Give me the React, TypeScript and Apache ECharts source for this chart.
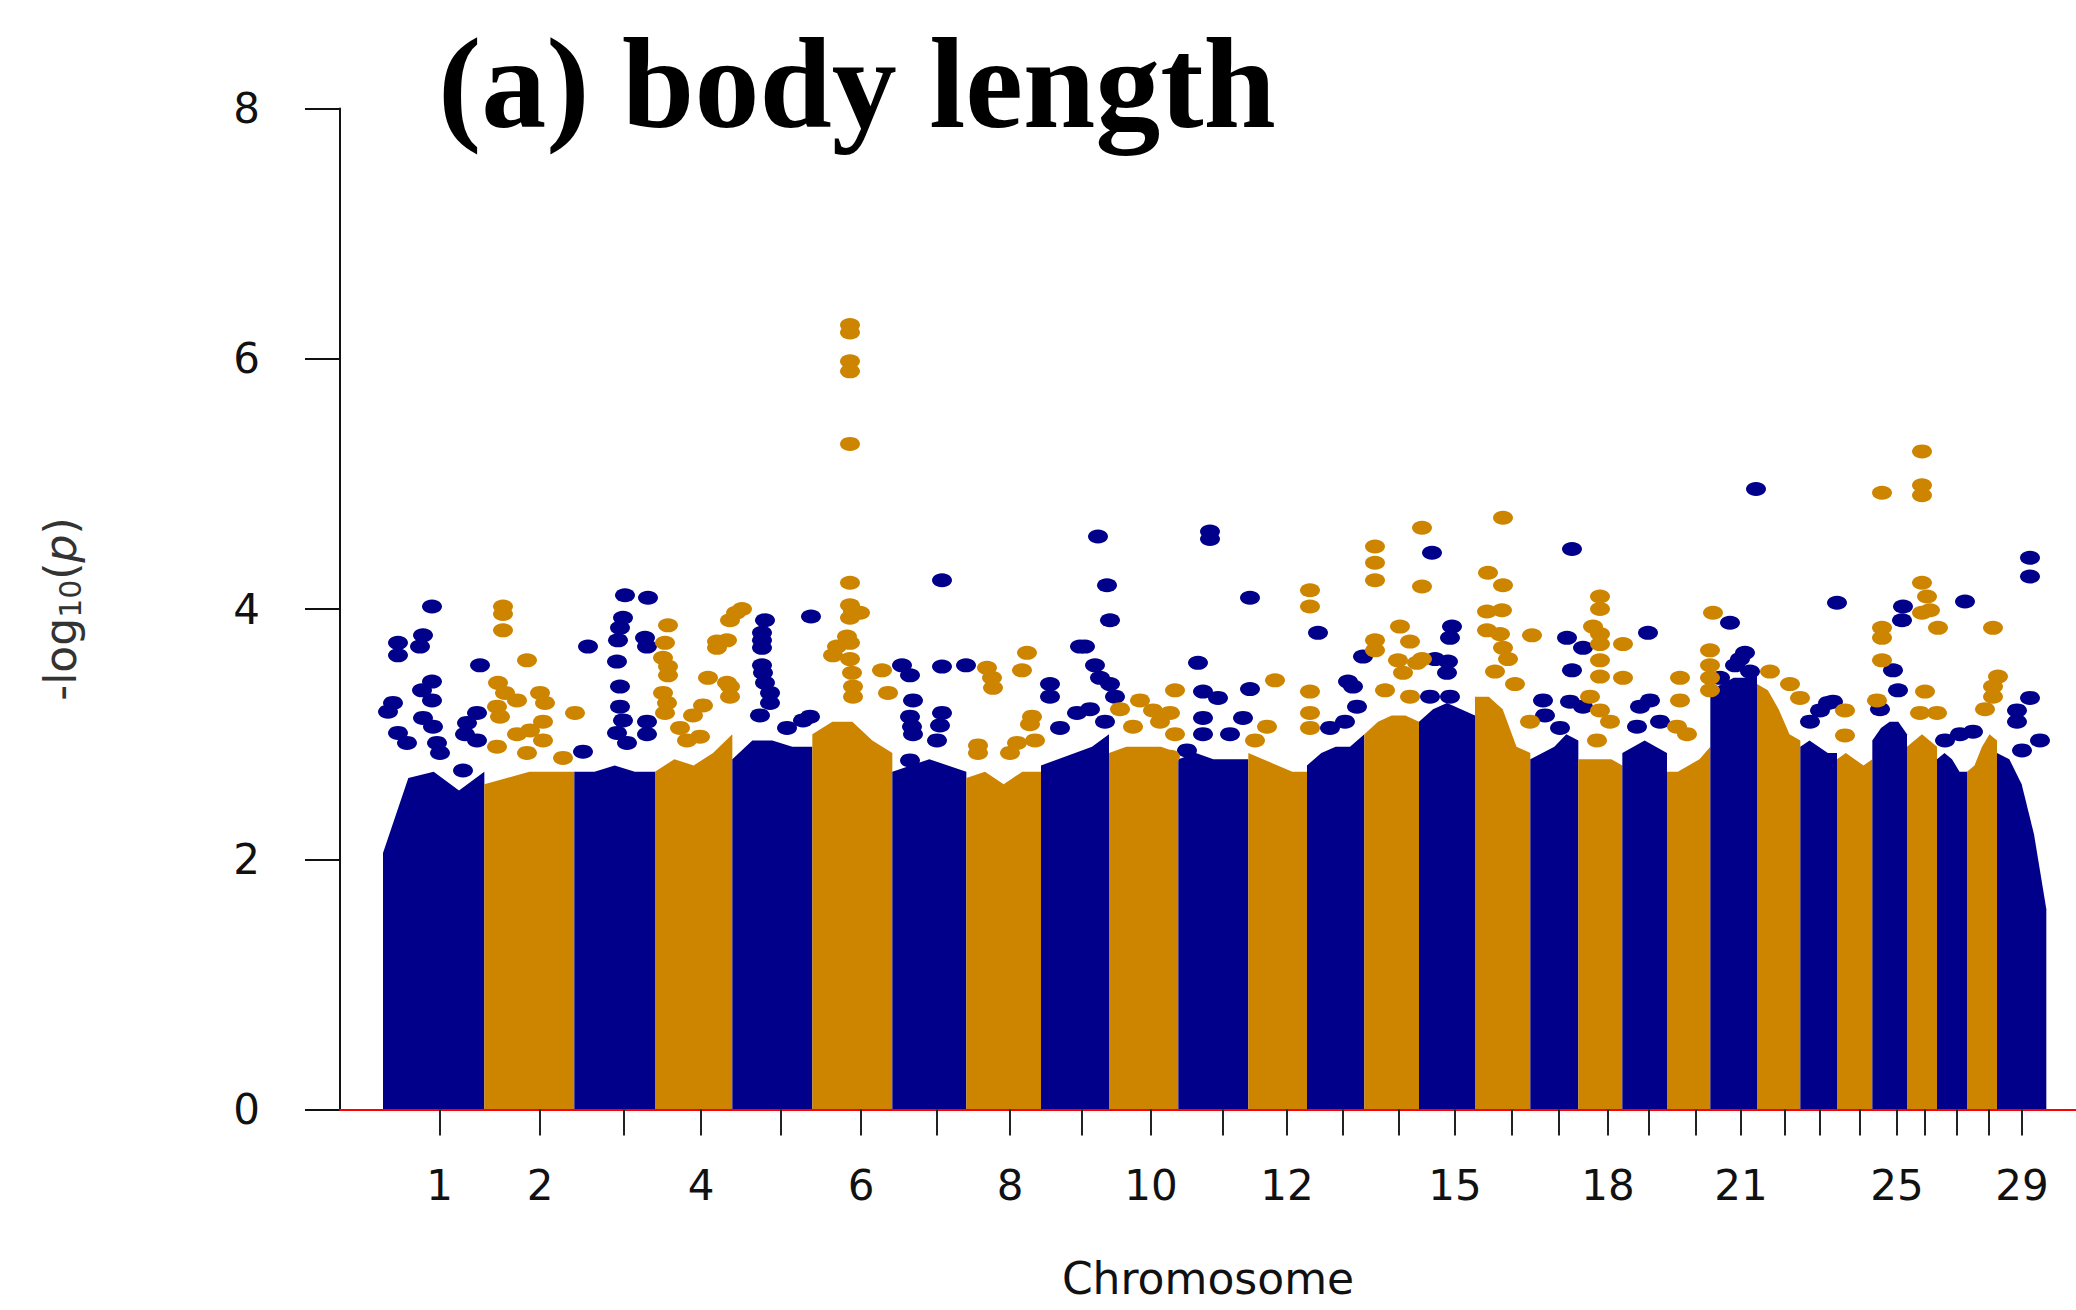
import React, { useEffect, useRef } from "react";
import * as echarts from "echarts";

// Chromosome layout (cumulative genome position, Mb)
const chrNames = ["1","2","3","4","5","6","7","8","9","10","11","12","13","14","15","16","17","18","19","20","21","22","23","24","25","26","27","28","29"];
const chrStart = [0,152,287,408,524,644,764,875,987,1089,1193,1298,1386,1472,1554,1638,1721,1793,1859,1926,1991,2061,2126,2181,2234,2286,2331,2376,2421];
const chrEnd = [152,287,408,524,644,764,875,987,1089,1193,1298,1386,1472,1554,1638,1721,1793,1859,1926,1991,2061,2126,2181,2234,2286,2331,2376,2421,2495];
const tickPos = [85,235.5,361.5,477,597,717,831,940.5,1048.5,1152,1260,1356,1440,1524,1608,1693.5,1764,1837.5,1899,1969.5,2037,2103,2155.5,2215.5,2271,2313,2361,2409,2458.5];
const labeledChr = ["1","2","4","6","8","10","12","15","18","21","25","29"];
const yTicks = [0, 2, 4, 6, 8];

// Upper edge of the dense SNP mass of each chromosome (-log10 p at 5 points across it)
const envTop = [
  [2.05,2.65,2.7,2.55,2.7],
  [2.6,2.65,2.7,2.7,2.7],
  [2.7,2.7,2.75,2.7,2.7],
  [2.7,2.8,2.75,2.85,3.0],
  [2.8,2.95,2.95,2.9,2.9],
  [3.0,3.1,3.1,2.95,2.85],
  [2.7,2.75,2.8,2.75,2.7],
  [2.65,2.7,2.6,2.7,2.7],
  [2.75,2.8,2.85,2.9,3.0],
  [2.85,2.9,2.9,2.9,2.85],
  [2.8,2.85,2.8,2.8,2.8],
  [2.85,2.8,2.75,2.7,2.7],
  [2.75,2.85,2.9,2.9,3.0],
  [3.0,3.1,3.15,3.15,3.1],
  [3.1,3.2,3.25,3.2,3.15],
  [3.3,3.3,3.2,2.9,2.85],
  [2.8,2.85,2.9,3.0,2.95],
  [2.8,2.8,2.8,2.8,2.75],
  [2.85,2.9,2.95,2.9,2.85],
  [2.7,2.7,2.75,2.8,2.9],
  [3.35,3.4,3.45,3.45,3.5],
  [3.4,3.35,3.2,3.0,2.95],
  [2.9,2.95,2.9,2.85,2.85],
  [2.8,2.85,2.8,2.75,2.8],
  [2.95,3.05,3.1,3.1,3.0],
  [2.9,2.95,3.0,2.95,2.9],
  [2.8,2.85,2.8,2.7,2.7],
  [2.7,2.75,2.9,3.0,2.95],
  [2.85,2.8,2.6,2.2,1.6]
];

// Individual SNPs standing above the dense mass: [position Mb, -log10 p]
const blueDots = [
  [73.5,4.02],[22.5,3.73],[22.5,3.63],[60,3.79],[55.5,3.70],[145.5,3.55],[73.5,3.42],[58.5,3.35],[73.5,3.27],[15,3.25],[7.5,3.18],[60,3.13],[75,3.06],[22.5,3.01],[36,2.93],[141,3.17],[126,3.09],[123,3.0],[141,2.95],[81,2.93],[85.5,2.85],[120,2.71],
  [363,4.11],[397.5,4.09],[360,3.93],[355.5,3.85],[307.5,3.70],[352.5,3.75],[393,3.77],[396,3.70],[351,3.58],[355.5,3.38],[355.5,3.22],[360,3.11],[396,3.10],[396,3.0],[300,2.86],[351,3.01],[366,2.93],
  [573,3.91],[568.5,3.81],[568.5,3.75],[568.5,3.69],[642,3.94],[568.5,3.55],[570,3.49],[573,3.41],[580.5,3.33],[580.5,3.25],[565.5,3.15],[606,3.05],[630,3.11],[640.5,3.14],
  [838.5,4.23],[778.5,3.55],[790.5,3.47],[838.5,3.54],[874.5,3.55],[795,3.27],[838.5,3.17],[835.5,3.07],[790.5,3.14],[793.5,3.06],[795,3.0],[831,2.95],[790.5,2.79],
  [1000.5,3.40],[1000.5,3.30],[1045.5,3.70],[1041,3.17],[1072.5,4.58],[1086,4.19],[1090.5,3.91],[1053,3.70],[1068,3.55],[1075.5,3.45],[1090.5,3.40],[1098,3.30],[1060.5,3.20],[1083,3.10],[1015.5,3.05],
  [1240.5,4.62],[1240.5,4.56],[1300.5,4.09],[1222.5,3.57],[1300.5,3.36],[1230,3.34],[1252.5,3.29],[1230,3.13],[1290,3.13],[1206,2.87],[1230,3.0],[1270.5,3.0],
  [1402.5,3.81],[1455,3.38],[1447.5,3.42],[1461,3.22],[1470,3.62],[1420.5,3.05],[1443,3.1],
  [1573.5,4.45],[1603.5,3.86],[1600.5,3.77],[1578,3.60],[1597.5,3.58],[1596,3.49],[1570.5,3.30],[1600.5,3.30],
  [1783.5,4.48],[1776,3.77],[1800,3.69],[1783.5,3.51],[1740,3.27],[1743,3.15],[1780.5,3.26],[1800,3.22],[1765.5,3.05],
  [1897.5,3.81],[1900.5,3.27],[1885.5,3.22],[1881,3.06],[1915.5,3.1],
  [2020.5,3.89],[2059.5,4.96],[2043,3.65],[2028,3.55],[2050.5,3.5],[2005.5,3.45],[2035.5,3.6],
  [2181,4.05],[2155.5,3.19],[2175,3.26],[2140.5,3.1],[2167.5,3.25],
  [2280,4.02],[2278.5,3.91],[2265,3.51],[2272.5,3.35],[2245.5,3.2],
  [2373,4.06],[2343,2.95],[2385,3.02],[2365.5,3.0],
  [2470.5,4.41],[2470.5,4.26],[2470.5,3.29],[2451,3.19],[2451,3.10],[2458.5,2.87],[2485.5,2.95]
];
const goldDots = [
  [180,4.02],[180,3.96],[180,3.83],[216,3.59],[172.5,3.41],[183,3.33],[201,3.27],[235.5,3.33],[243,3.25],[288,3.17],[171,3.22],[175.5,3.14],[240,3.10],[201,3.0],[220.5,3.03],[240,2.95],[171,2.9],[216,2.85],[270,2.81],
  [427.5,3.87],[423,3.73],[420,3.61],[427.5,3.54],[427.5,3.47],[501,3.74],[501,3.69],[520.5,3.91],[529.5,3.97],[538.5,4.0],[487.5,3.45],[420,3.33],[426,3.25],[423,3.17],[480,3.23],[465,3.15],[516,3.41],[516,3.75],[520.5,3.38],[520.5,3.30],[475.5,2.98],[445.5,3.05],[456,2.95],
  [700.5,6.27],[700.5,6.21],[700.5,5.98],[700.5,5.90],[700.5,5.32],[700.5,4.21],[700.5,4.03],[705,3.98],[700.5,3.93],[715.5,3.97],[696,3.78],[700.5,3.73],[681,3.70],[675,3.63],[700.5,3.60],[703.5,3.49],[705,3.38],[705,3.30],[748.5,3.51],[757.5,3.33],
  [966,3.65],[958.5,3.51],[906,3.53],[913.5,3.45],[915,3.37],[973.5,3.14],[970.5,3.08],[892.5,2.91],[892.5,2.85],[951,2.93],[940.5,2.85],[978,2.95],
  [1188,3.35],[1135.5,3.27],[1155,3.19],[1180.5,3.17],[1188,3.0],[1125,3.06],[1180.5,2.82],[1105.5,3.2],[1165.5,3.1],
  [1338,3.43],[1326,3.06],[1390.5,4.15],[1390.5,4.02],[1390.5,3.34],[1390.5,3.17],[1390.5,3.05],[1308,2.95],
  [1488,4.50],[1488,4.37],[1488,4.23],[1558.5,4.65],[1558.5,4.18],[1525.5,3.86],[1540.5,3.74],[1488,3.75],[1488,3.67],[1522.5,3.59],[1551,3.57],[1530,3.49],[1558.5,3.60],[1503,3.35],[1540.5,3.3],
  [1680,4.73],[1657.5,4.29],[1680,4.19],[1656,3.98],[1678.5,3.99],[1656,3.83],[1675.5,3.8],[1680,3.69],[1687.5,3.60],[1723.5,3.79],[1668,3.5],[1698,3.4],[1720.5,3.1],
  [1825.5,4.10],[1825.5,4.00],[1815,3.86],[1825.5,3.80],[1825.5,3.72],[1825.5,3.59],[1825.5,3.46],[1860,3.72],[1860,3.45],[1825.5,3.19],[1821,2.95],[1810.5,3.3],[1840.5,3.1],
  [1945.5,3.45],[1945.5,3.27],[1995,3.97],[1990.5,3.67],[1990.5,3.55],[1990.5,3.45],[1990.5,3.35],[1941,3.06],[1956,3.0],
  [2125.5,3.29],[2080.5,3.5],[2110.5,3.4],
  [2248.5,4.93],[2248.5,3.85],[2248.5,3.77],[2248.5,3.59],[2193,3.19],[2193,2.99],[2241,3.27],
  [2308.5,5.26],[2308.5,4.99],[2308.5,4.91],[2308.5,4.21],[2316,4.10],[2320.5,3.99],[2308.5,3.97],[2332.5,3.85],[2313,3.34],[2331,3.17],[2305.5,3.17],
  [2415,3.85],[2422.5,3.46],[2415,3.38],[2415,3.30],[2403,3.2]
];

const BLUE = "#00008B";
const GOLD = "#CD8500";
const AXIS_FONT = "DejaVu Sans, Liberation Sans, sans-serif";

export default function App() {
  const ref = useRef<HTMLDivElement>(null);
  useEffect(() => {
    if (!ref.current) return;
    const chart = echarts.init(ref.current, undefined, { renderer: "svg" });
    const labelValues = labeledChr.map((c) => tickPos[chrNames.indexOf(c)]);
    const blockData = chrNames.map((_, i) => [chrStart[i], chrEnd[i], ...envTop[i]]);
    chart.setOption({
      animation: false,
      backgroundColor: "#ffffff",
      title: {
        text: "(a) body length",
        left: 438,
        top: 18,
        padding: 0,
        textStyle: {
          fontFamily: "Liberation Serif, Times New Roman, serif",
          fontWeight: "bold",
          fontSize: 130,
          lineHeight: 130,
          color: "#000000",
        },
      },
      grid: {
        left: 340,
        right: 0,
        top: 108.6,
        bottom: 200.5,
        containLabel: false,
        outerBoundsMode: "none",
      },
      xAxis: {
        type: "value",
        min: -64.5,
        max: 2539.5,
        z: 10,
        name: "Chromosome",
        nameLocation: "middle",
        nameGap: 150,
        nameTextStyle: { fontFamily: AXIS_FONT, fontSize: 44, lineHeight: 38, color: "#111111" },
        axisLine: { show: true, onZero: false, lineStyle: { color: "#ff0000", width: 2 } },
        axisTick: {
          show: true,
          customValues: tickPos,
          length: 26,
          lineStyle: { color: "#222222", width: 2 },
        },
        axisLabel: {
          show: true,
          customValues: labelValues,
          margin: 55,
          fontFamily: AXIS_FONT,
          fontSize: 42,
          lineHeight: 42,
          color: "#111111",
          formatter: (v: number) => {
            const idx = tickPos.findIndex((t) => Math.abs(t - v) < 0.01);
            return idx >= 0 ? chrNames[idx] : "";
          },
        },
        splitLine: { show: false },
      },
      yAxis: {
        type: "value",
        min: 0,
        max: 8,
        interval: 2,
        name: "{a|-log}{s|10}{a|(}{i|p}{a|)}",
        nameLocation: "middle",
        nameRotate: 90,
        nameGap: 255,
        nameTextStyle: {
          color: "#333333",
          rich: {
            a: { fontFamily: AXIS_FONT, fontSize: 44, lineHeight: 50, color: "#333333" },
            i: { fontFamily: AXIS_FONT, fontSize: 44, lineHeight: 50, fontStyle: "italic", color: "#333333" },
            s: { fontFamily: AXIS_FONT, fontSize: 30, lineHeight: 22, verticalAlign: "bottom", color: "#333333" },
          },
        },
        axisLine: { show: true, onZero: false, lineStyle: { color: "#111111", width: 2 } },
        axisTick: { show: true, length: 35, lineStyle: { color: "#111111", width: 2 } },
        axisLabel: {
          margin: 80,
          fontFamily: AXIS_FONT,
          fontSize: 42,
          color: "#111111",
          formatter: (v: number) => (yTicks.includes(v) ? String(v) : ""),
        },
        splitLine: { show: false },
      },
      series: [
        {
          type: "custom",
          silent: true,
          z: 2,
          data: blockData,
          encode: { x: [0, 1], y: [2, 3, 4, 5, 6] },
          renderItem: (params: any, api: any) => {
            const s = api.value(0);
            const e = api.value(1);
            const pts: number[][] = [api.coord([s, 0])];
            for (let k = 0; k < 5; k++) {
              pts.push(api.coord([s + ((e - s) * k) / 4, api.value(2 + k)]));
            }
            pts.push(api.coord([e, 0]));
            return {
              type: "polygon",
              shape: { points: pts },
              style: { fill: params.dataIndex % 2 === 0 ? BLUE : GOLD, stroke: "none" },
            };
          },
        },
        {
          type: "scatter",
          silent: true,
          z: 3,
          symbol: "circle",
          symbolSize: [20, 14],
          itemStyle: { color: BLUE, opacity: 1 },
          data: blueDots,
        },
        {
          type: "scatter",
          silent: true,
          z: 3,
          symbol: "circle",
          symbolSize: [20, 14],
          itemStyle: { color: GOLD, opacity: 1 },
          data: goldDots,
        },
      ],
    });
    return () => chart.dispose();
  }, []);
  return (
    <div
      ref={ref}
      style={{ position: "absolute", left: 0, top: 0, width: 2076, height: 1310, background: "#fff" }}
    />
  );
}
